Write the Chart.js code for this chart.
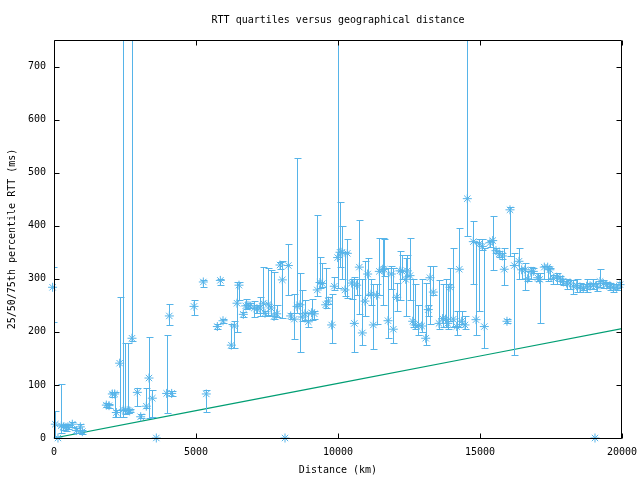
<!DOCTYPE html>
<html>
<head>
<meta charset="utf-8">
<script src="https://cdn.jsdelivr.net/npm/chart.js@4"></script>
<style>
html,body{margin:0;padding:0;background:#fff;}
canvas{display:block;}
</style>
</head>
<body>
<canvas id="c" width="640" height="480"></canvas>
<script>
// Distance (km) of each bin
const distances = [-50,46,140,258,330,420,490,645,786,927,997,1842,1937,2054,2136,2195,2312,2440,2512,2606,2665,2746,2934,3052,3251,3345,3462,3603,3967,4061,4143,4930,5258,5363,5751,5857,5951,6244,6349,6444,6514,6666,6750,6830,6900,7053,7137,7254,7371,7430,7546,7641,7746,7840,7958,8040,8134,8251,8333,8462,8556,8662,8744,8838,8955,9072,9166,9271,9366,9448,9566,9660,9777,9870,9988,10070,10141,10246,10328,10481,10575,10657,10751,10857,10950,11044,11162,11244,11361,11455,11573,11631,11761,11878,11948,12067,12183,12264,12384,12441,12535,12630,12712,12830,12947,13087,13180,13239,13356,13556,13685,13791,13862,13944,14060,14180,14271,14355,14472,14553,14765,14859,14977,15081,15152,15352,15447,15563,15681,15787,15856,15950,16056,16208,16373,16467,16585,16678,16796,16877,17031,17100,17265,17383,17460,17582,17700,17817,17910,18051,18169,18285,18404,18521,18637,18757,18873,18990,19049,19107,19225,19342,19461,19577,19694,19810,19930];
// 50th percentile RTT (ms)
const medianRtt = [284,26,0,23,21,20,21,26,14,21,12,62,61,83,83,48,141,53,52,52,51,188,86,40,60,113,75,0,84,230,84,248,294,83,210,297,221,175,211,254,288,233,249,250,249,245,243,245,254,235,252,245,229,234,326,298,0,325,230,224,248,251,228,234,219,236,234,279,293,291,251,258,213,286,340,350,350,279,348,292,216,288,322,198,258,309,271,213,269,314,318,318,221,309,205,265,315,314,299,315,306,220,213,212,211,188,242,302,275,216,225,224,216,284,224,210,318,220,213,451,370,223,366,361,210,368,372,353,347,343,318,220,430,325,333,317,317,300,314,314,302,299,322,322,317,301,303,301,295,292,292,286,287,284,282,286,286,289,0,286,295,291,289,286,284,284,289];
// 25th percentile RTT (ms)
const q25Rtt = [219,2,0,9,15,14,17,20,10,9,8,58,57,78,40,40,40,40,45,48,49,182,60,38,56,38,40,0,48,213,80,232,285,49,206,288,217,169,169,199,260,228,244,245,245,228,235,229,236,230,232,230,224,228,318,226,0,270,225,186,235,162,220,222,210,222,225,267,282,284,245,252,179,279,282,323,300,267,264,262,163,270,233,175,230,270,250,167,215,270,250,305,188,280,179,240,260,300,230,305,260,210,205,195,200,175,230,215,270,205,210,210,205,220,210,195,210,215,205,380,291,194,240,355,169,360,317,348,342,338,289,216,343,157,300,300,279,295,300,310,295,216,300,295,300,290,290,290,288,280,280,272,275,275,278,276,280,280,0,277,285,283,282,278,276,278,282];
// 75th percentile RTT (ms)
const q75Rtt = [322,50,0,101,25,26,25,30,18,26,16,66,65,86,86,53,265,800,179,179,54,800,94,46,94,190,90,0,194,252,88,260,298,91,214,300,225,214,220,294,294,238,262,255,254,259,250,265,323,240,320,316,313,250,332,333,0,365,236,272,527,311,279,260,236,262,240,420,342,330,320,265,271,304,800,445,399,350,375,300,303,300,410,300,334,340,300,290,290,377,376,375,320,325,321,292,353,345,340,345,377,300,290,250,300,292,250,325,325,297,290,300,290,320,358,240,396,240,230,800,408,370,375,375,358,372,419,358,352,348,358,224,436,348,358,320,330,315,322,320,310,310,325,325,320,308,310,305,300,300,298,298,300,292,290,300,292,300,0,293,318,298,294,292,290,290,294];
// Minimum theoretical RTT (ms) versus distance
const minDistances = [0,5000,10000,15000,20000];
const minRtt = [0,51.5,103,154.5,206];

const xTicks = [0,5000,10000,15000,20000];
const yTicks = [0,100,200,300,400,500,600,700];
const chartTitle = 'RTT quartiles versus geographical distance';

const BLUE = '#56b4e9';
const GREEN = '#009e73';
const FONT = '"DejaVu Sans Mono", "Liberation Mono", monospace';

const medianPoints = distances.map((d,i)=>({x:d,y:medianRtt[i]}));
const minPoints = minDistances.map((d,i)=>({x:d,y:minRtt[i]}));

const errorBars = {
  id:'errorBars',
  afterDatasetsDraw(chart){
    const {ctx, chartArea:a, scales:{x,y}} = chart;
    ctx.save();
    ctx.beginPath();
    ctx.rect(a.left, a.top, a.right-a.left, a.bottom-a.top+1);
    ctx.clip();
    ctx.strokeStyle = BLUE;
    ctx.lineWidth = 1;
    for(let i=0;i<distances.length;i++){
      if(q75Rtt[i]===q25Rtt[i]) continue;
      const px = Math.round(x.getPixelForValue(distances[i]))+0.5;
      const p1 = Math.round(y.getPixelForValue(q25Rtt[i]))+0.5;
      const p2 = Math.round(y.getPixelForValue(q75Rtt[i]))+0.5;
      ctx.beginPath();
      ctx.moveTo(px,p1); ctx.lineTo(px,p2);
      ctx.moveTo(px-3,p1); ctx.lineTo(px+4,p1);
      ctx.moveTo(px-3,p2); ctx.lineTo(px+4,p2);
      ctx.stroke();
    }
    ctx.restore();
  }
};

const frame = {
  id:'frame',
  afterDraw(chart){
    const {ctx, chartArea:a, scales:{x,y}} = chart;
    ctx.save();
    ctx.strokeStyle = '#000';
    ctx.lineWidth = 1;
    const L = Math.round(a.left)+0.5, R = Math.round(a.right)-0.5, T = Math.round(a.top)+0.5, B = Math.round(a.bottom)+0.5;
    ctx.beginPath();
    ctx.rect(L, T, R-L, B-T);
    const len = 5;
    yTicks.forEach(v=>{
      const py = Math.round(y.getPixelForValue(v))+0.5;
      ctx.moveTo(L,py); ctx.lineTo(L+len,py);
      ctx.moveTo(R,py); ctx.lineTo(R-len,py);
    });
    xTicks.forEach(v=>{
      const px = Math.round(x.getPixelForValue(v))+0.5;
      ctx.moveTo(px,B); ctx.lineTo(px,B-len);
      ctx.moveTo(px,T); ctx.lineTo(px,T+len);
    });
    ctx.stroke();
    ctx.fillStyle = '#000';
    ctx.font = '10px ' + FONT;
    ctx.textAlign = 'center';
    ctx.textBaseline = 'middle';
    ctx.fillText(chartTitle, (a.left+a.right)/2, 20);
    ctx.restore();
  }
};

new Chart(document.getElementById('c'), {
  type:'scatter',
  data:{
    datasets:[
      {
        label:'RTT quartiles',
        data: medianPoints,
        pointStyle:'star',
        radius:4.5,
        borderColor:BLUE,
        backgroundColor:BLUE,
        borderWidth:1,
        showLine:false,
        clip:false,
        order:1
      },
      {
        type:'line',
        label:'minimum',
        data: minPoints,
        borderColor:GREEN,
        borderWidth:1.2,
        pointRadius:0,
        fill:false,
        tension:0,
        order:2
      }
    ]
  },
  options:{
    responsive:false,
    animation:false,
    layout:{padding:{left:0,right:18,top:40,bottom:0}},
    plugins:{
      legend:{display:false},
      tooltip:{enabled:false},
      title:{display:false}
    },
    scales:{
      x:{
        type:'linear',
        min:0,max:20000,
        afterFit(s){s.height=42; s.paddingLeft=0; s.paddingRight=0;},
        afterBuildTicks(s){s.ticks = xTicks.map(v=>({value:v}));},
        grid:{display:false, drawTicks:false, tickLength:0},
        border:{display:false},
        ticks:{color:'#000',font:{family:FONT,size:10},padding:8,maxRotation:0,autoSkip:false,
          callback:v=>String(v)},
        title:{display:true,text:'Distance (km)',color:'#000',font:{family:FONT,size:10},padding:{top:0,bottom:4}}
      },
      y:{
        type:'linear',
        min:0,max:750,
        afterFit(s){s.width=54; s.paddingTop=0; s.paddingBottom=0;},
        afterBuildTicks(s){s.ticks = yTicks.map(v=>({value:v}));},
        grid:{display:false, drawTicks:false, tickLength:0},
        border:{display:false},
        ticks:{color:'#000',font:{family:FONT,size:10},padding:8,autoSkip:false,
          callback:v=>String(v)},
        title:{display:true,text:'25/50/75th percentile RTT (ms)',color:'#000',font:{family:FONT,size:10},padding:{top:6,bottom:0}}
      }
    }
  },
  plugins:[errorBars, frame]
});
</script>
</body>
</html>
